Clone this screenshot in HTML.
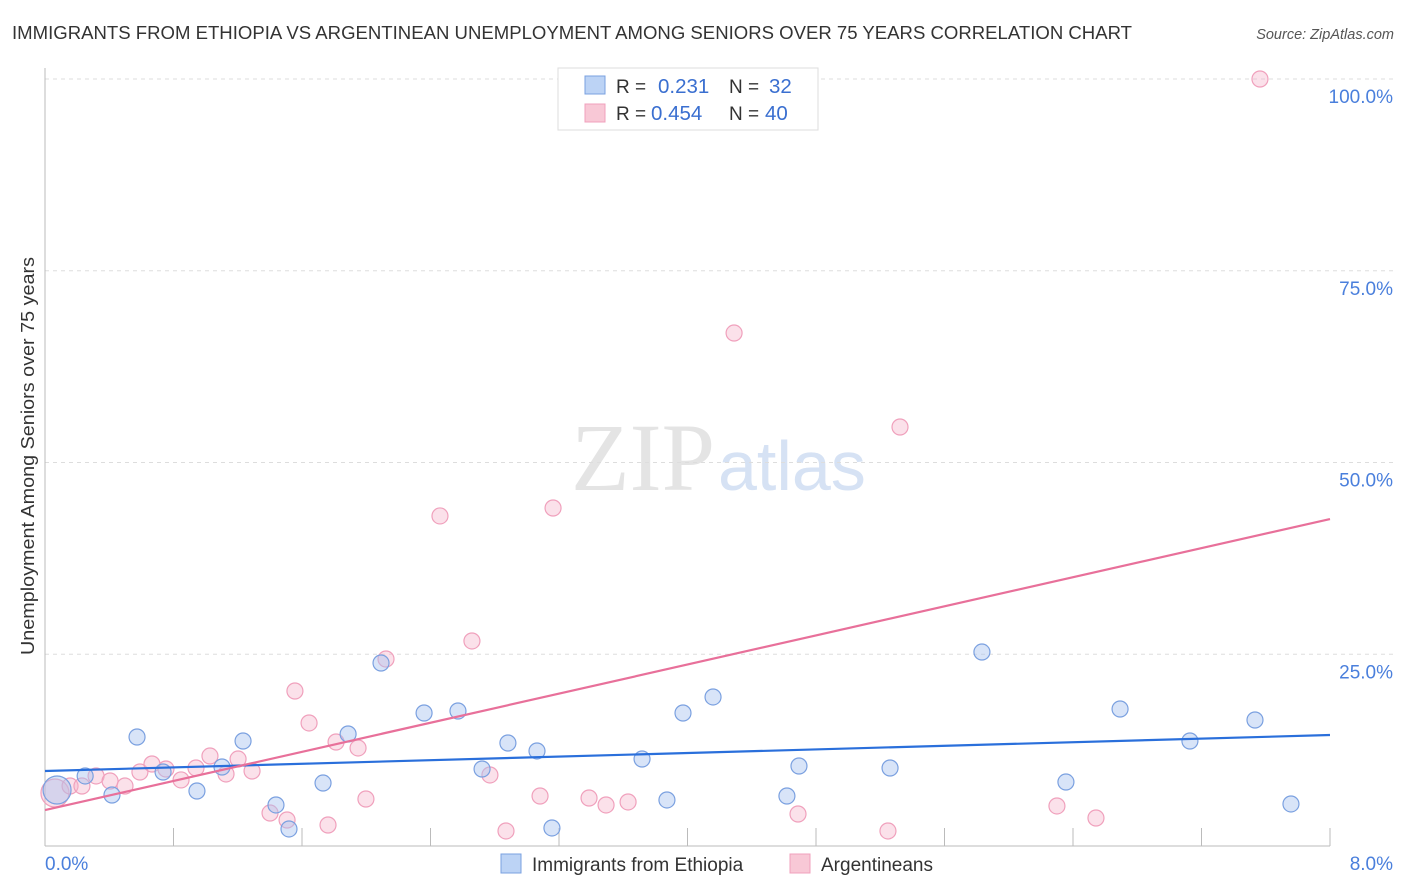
<!DOCTYPE html>
<html><head><meta charset="utf-8"><style>
body{margin:0;background:#fff;font-family:"Liberation Sans",sans-serif;}
svg{display:block}
</style></head><body>
<svg width="1406" height="892">
<text x="12" y="39" font-size="18" fill="#333" textLength="1120" lengthAdjust="spacingAndGlyphs">IMMIGRANTS FROM ETHIOPIA VS ARGENTINEAN UNEMPLOYMENT AMONG SENIORS OVER 75 YEARS CORRELATION CHART</text>
<text x="1394" y="39" font-size="14.5" fill="#555" font-style="italic" text-anchor="end">Source: ZipAtlas.com</text>
<text x="715" y="490" font-size="96" fill="#e4e4e4" text-anchor="end" font-family="Liberation Serif,serif">ZIP</text>
<text x="718" y="490" font-size="70" fill="#d6e2f4">atlas</text>
<g id="grid"></g>
<g id="axes"></g>
<g id="pts"></g>
<g id="lines"></g>
<text transform="translate(34,456) rotate(-90)" font-size="18.5" fill="#333" text-anchor="middle" textLength="398" lengthAdjust="spacingAndGlyphs">Unemployment Among Seniors over 75 years</text>
<g>
<rect x="558" y="68" width="260" height="62" fill="#fff" stroke="#ddd"/>
<rect x="585" y="76" width="20" height="18" fill="#bcd3f5" stroke="#7aa0e0"/>
<text x="616" y="93" font-size="19" fill="#333">R =</text><text x="658" y="93" font-size="20.5" fill="#3a6fd0">0.231</text>
<text x="729" y="93" font-size="19" fill="#333">N =</text><text x="769" y="93" font-size="20.5" fill="#3a6fd0">32</text>
<rect x="585" y="104" width="20" height="18" fill="#f8c8d6" stroke="#f0a0bc"/>
<text x="616" y="120" font-size="19" fill="#333">R =</text><text x="651" y="120" font-size="20.5" fill="#3a6fd0">0.454</text>
<text x="729" y="120" font-size="19" fill="#333">N =</text><text x="765" y="120" font-size="20.5" fill="#3a6fd0">40</text>
</g>
<g>
<rect x="501" y="854" width="20" height="19" fill="#bcd3f5" stroke="#7aa0e0"/>
<text x="532" y="871" font-size="19" fill="#333">Immigrants from Ethiopia</text>
<rect x="790" y="854" width="20" height="19" fill="#f8c8d6" stroke="#f0a0bc"/>
<text x="821" y="871" font-size="19" fill="#333">Argentineans</text>
</g>
</svg>
<script>
const xTicks=[0,1,2,3,4,5,6,7,8];
const yTicks=[25,50,75,100];
const yTickLabels=["25.0%","50.0%","75.0%","100.0%"];
const xEndLabels=["0.0%","8.0%"];
const blueX=[0.075,0.25,0.417,0.573,0.735,0.946,1.102,1.233,1.438,1.519,1.731,1.887,2.092,2.36,2.571,2.721,2.882,3.063,3.156,3.717,3.872,3.972,4.159,4.619,4.694,5.261,5.833,6.356,6.693,7.128,7.533,7.757];
const blueY=[7.3,9.13,6.65,14.21,9.65,7.17,10.3,13.69,5.35,2.22,8.21,14.6,23.86,17.34,17.6,10.04,13.43,12.39,2.35,11.34,6.0,17.34,19.43,6.52,10.43,10.17,25.29,8.34,17.86,13.69,16.43,5.48];
const pinkX=[0.062,0.156,0.23,0.318,0.405,0.498,0.591,0.666,0.753,0.847,0.94,1.027,1.127,1.202,1.289,1.401,1.507,1.556,1.644,1.762,1.812,1.949,1.998,2.123,2.459,2.658,2.77,2.87,3.082,3.163,3.387,3.493,3.63,4.29,4.688,5.248,5.323,6.3,6.543,7.564];
const pinkY=[6.91,7.82,7.82,9.13,8.47,7.82,9.65,10.69,10.04,8.61,10.17,11.73,9.39,11.34,9.78,4.3,3.39,20.21,16.04,2.74,13.56,12.78,6.13,24.38,43.03,26.73,9.26,1.96,6.52,44.07,6.26,5.35,5.74,66.88,4.17,1.96,54.63,5.22,3.65,100];
const blueLine=[9.78,14.47];
const pinkLine=[4.69,42.63];
const X0=45,X1=1330,Y0=846,YT=79;
const sx=v=>X0+v/8*(X1-X0);
const sy=v=>Y0-v/100*(Y0-YT);
const NS="http://www.w3.org/2000/svg";
function mk(t,a,p){const e=document.createElementNS(NS,t);for(const k in a)e.setAttribute(k,a[k]);p.appendChild(e);return e;}
const grid=document.getElementById('grid'),axes=document.getElementById('axes'),pts=document.getElementById('pts'),lines=document.getElementById('lines');
yTicks.forEach((v,i)=>{
 const l=mk('line',{x1:X0,x2:1393,y1:sy(v),y2:sy(v),stroke:'#ddd','stroke-dasharray':'4,4'},grid);
 
 
 const t=mk('text',{x:1393,y:sy(v)+24,'font-size':19,fill:'#4a7fdc','text-anchor':'end'},grid);
 t.textContent=yTickLabels[i];
 
 
});
const ax=mk('line',{x1:X0,x2:X0,y1:68,y2:Y0,stroke:'#bbb'},axes);


const bx=mk('line',{x1:X0,x2:X1,y1:Y0,y2:Y0,stroke:'#bbb'},axes);


for(let i=0;i<=10;i++){const px=X0+i*(X1-X0)/10;
 const t=mk('line',{x1:px,x2:px,y1:828,y2:Y0,stroke:'#bbb'},axes);
 
 }
[0,8].forEach((v,i)=>{const t=mk('text',{x:i?1393:45,y:870,'font-size':19,fill:'#4a7fdc','text-anchor':i?'end':'start'},axes);
 t.textContent=xEndLabels[i];
 
 });
function dots(xs,ys,fill,stroke,name){xs.forEach((x,i)=>{
 const c=mk('circle',{cx:sx(x),cy:sy(ys[i]),r:i===0?14:8,fill:fill,stroke:stroke,'stroke-width':1.2},pts);
 
 });}
dots(pinkX,pinkY,'rgba(246,180,202,0.4)','#f0a0bc','point-argentineans');
dots(blueX,blueY,'rgba(168,196,240,0.45)','#7aa0e0','point-ethiopia');
const bl=mk('line',{x1:sx(0),y1:sy(blueLine[0]),x2:sx(8),y2:sy(blueLine[1]),stroke:'#2a6fdb','stroke-width':2.2},lines);


const pl=mk('line',{x1:sx(0),y1:sy(pinkLine[0]),x2:sx(8),y2:sy(pinkLine[1]),stroke:'#e8709a','stroke-width':2.2},lines);


</script>
</body></html>
